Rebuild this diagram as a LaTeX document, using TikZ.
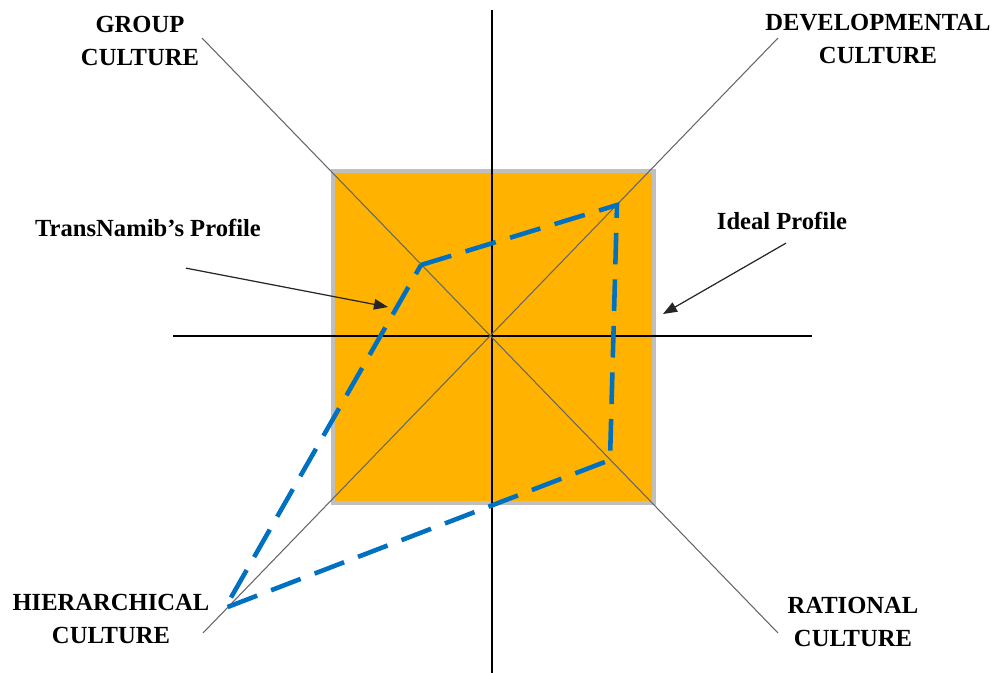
\documentclass[tikz,border=0pt]{standalone}
\usepackage{fontspec}
\setmainfont{Liberation Serif}
\usepackage{xcolor}
\usetikzlibrary{
  arrows.meta,
  positioning,
  calc
}
\definecolor{boxorange}{HTML}{FFB300}
\definecolor{boxrim}{HTML}{BFBFBF}
\definecolor{profblue}{HTML}{0070C0}

\begin{document}
\begin{tikzpicture}[
    x=0.02cm, y=-0.02cm,
    lbl/.style={
      align=center,
      inner sep=0pt,
      font=\fontsize{14}{19}\selectfont\bfseries
    },
    axis/.style={line width=1.2pt, black},
    diag/.style={line width=0.6pt, black!60},
    profile/.style={
      profblue,
      line width=2.6pt,
      dash pattern=on 18pt off 8.5pt,
      line join=miter
    },
    ar/.style={-{Triangle[length=8pt,width=6pt]}, line width=0.7pt, black!85}
  ]
    \useasboundingbox (0,0) rectangle (995,673);

    % Culture square
    \node[draw=boxrim, line width=1.9pt, fill=boxorange, minimum width=321*0.02cm,
          minimum height=332*0.02cm, inner sep=0pt] (grid) at (493.5,337) {};

    % Axes
    \coordinate (c) at (492,336);
    \coordinate (xl) at (173,336);
    \coordinate (xr) at (812,336);
    \coordinate (yt) at (492,10);
    \coordinate (yb) at (492,673);
    \draw[axis] (xl) -- (xr);
    \draw[axis] (yt) -- (yb);

    % Diagonals
    \coordinate (gd) at (202,38);
    \coordinate (rd) at (778,633);
    \coordinate (dd) at (778,38);
    \coordinate (hd) at (203,633);
    \draw[diag] (gd) -- (rd);
    \draw[diag] (dd) -- (hd);

    % Labels
    \node[lbl] (group) at (140,41) {GROUP\\CULTURE};
    \node[lbl] (devel) at (878,39) {DEVELOPMENTAL\\CULTURE};
    \node[lbl] (hier) at (111,619) {HIERARCHICAL\\CULTURE};
    \node[lbl] (ratio) at (853,622) {RATIONAL\\CULTURE};
    \node[lbl] (trans) at (148,228) {TransNamib’s Profile};
    \node[lbl] (ideal) at (782,221) {Ideal Profile};

    % TransNamib profile
    \coordinate (pg) at (421,265);
    \coordinate (pd) at (617,205);
    \coordinate (pr) at (610,460);
    \coordinate (ph) at (225,608);
    \draw[profile] (pg) -- (pd) -- (pr) -- (ph) -- cycle;

    % Pointers
    \coordinate (tt) at (388,307);
    \coordinate (it) at (663,314);
    \draw[ar] (trans.south) ++(38,31) -- (tt);
    \draw[ar] (ideal.south) ++(4,13) -- (it);

  \end{tikzpicture}
\end{document}
